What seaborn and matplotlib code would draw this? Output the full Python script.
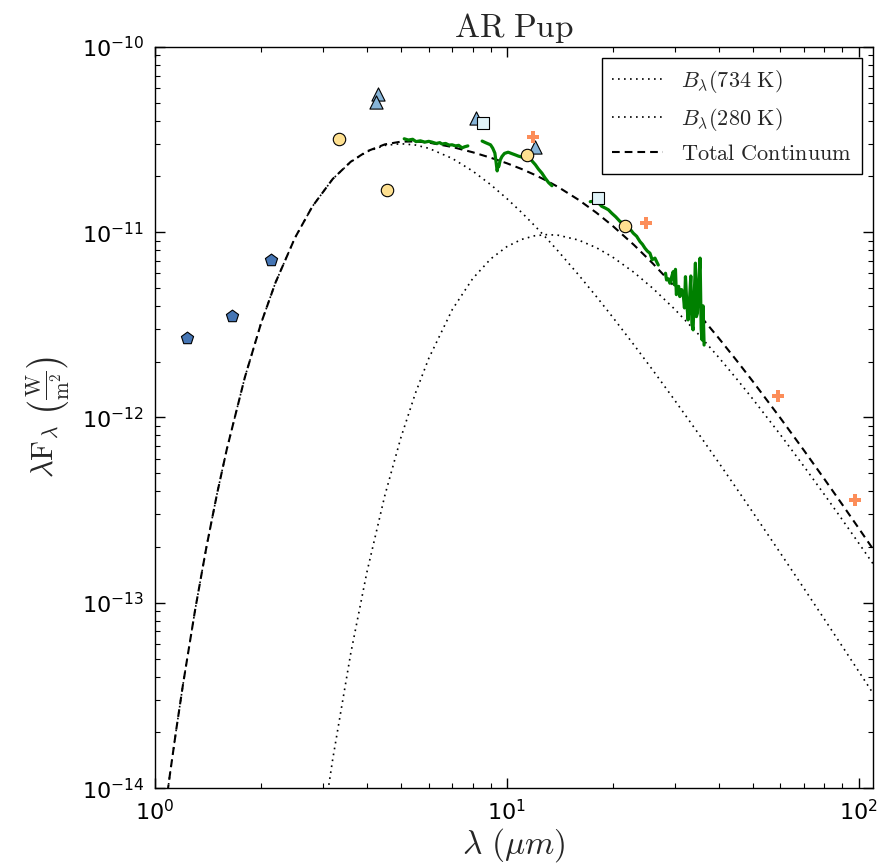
import numpy as np
import pandas as pd
import matplotlib
matplotlib.use("Agg")
import matplotlib.pyplot as plt
import seaborn as sns

# ---------------- data ----------------
# model curves (wavelength in micron, lambda*F_lambda in W/m^2)
model_wl = [1.0, 1.05, 1.1, 1.15, 1.2, 1.3, 1.4, 1.5, 1.6, 1.8, 2.0, 2.2, 2.5, 2.8,
            3.2, 3.6, 4.0, 4.5, 5.0, 5.5, 6.0, 7.0, 8.0, 9.0, 10, 11, 12, 13, 14,
            16, 18, 20, 23, 26, 30, 35, 40, 45, 50, 60, 70, 80, 90, 100, 110]
b734 = [2.848e-15, 5.948e-15, 1.153e-14, 2.095e-14, 3.595e-14, 9.172e-14, 2.002e-13,
        3.862e-13, 6.753e-13, 1.646e-12, 3.208e-12, 5.342e-12, 9.333e-12, 1.375e-11,
        1.936e-11, 2.393e-11, 2.714e-11, 2.937e-11, 3.000e-11, 2.952e-11, 2.834e-11,
        2.498e-11, 2.136e-11, 1.804e-11, 1.519e-11, 1.281e-11, 1.084e-11, 9.226e-12,
        7.894e-12, 5.881e-12, 4.478e-12, 3.479e-12, 2.462e-12, 1.802e-12, 1.241e-12,
        8.226e-13, 5.724e-13, 4.140e-13, 3.089e-13, 1.851e-13, 1.194e-13, 8.149e-14,
        5.804e-14, 4.280e-14, 3.245e-14]
b280_wl = [2.8, 3.0, 3.2, 3.6, 4.0, 4.5, 5.0, 5.5, 6.0, 7.0, 8.0, 9.0, 10, 11, 12, 13, 14,
           16, 18, 20, 23, 26, 30, 35, 40, 45, 50, 60, 70, 80, 90, 100, 110]
b280 = [2.465e-15, 6.356e-15, 1.433e-14, 5.325e-14, 1.456e-13, 3.789e-13, 7.790e-13,
        1.354e-12, 2.083e-12, 3.823e-12, 5.616e-12, 7.170e-12, 8.347e-12, 9.128e-12,
        9.556e-12, 9.697e-12, 9.623e-12, 9.063e-12, 8.232e-12, 7.333e-12, 6.063e-12,
        4.980e-12, 3.843e-12, 2.822e-12, 2.115e-12, 1.618e-12, 1.261e-12, 8.058e-13,
        5.438e-13, 3.834e-13, 2.801e-13, 2.106e-13, 1.623e-13]
total = [2.848e-15, 5.948e-15, 1.153e-14, 2.095e-14, 3.595e-14, 9.172e-14, 2.002e-13,
         3.862e-13, 6.753e-13, 1.646e-12, 3.208e-12, 5.342e-12, 9.333e-12, 1.375e-11,
         1.937e-11, 2.398e-11, 2.729e-11, 2.975e-11, 3.078e-11, 3.087e-11, 3.042e-11,
         2.880e-11, 2.698e-11, 2.521e-11, 2.354e-11, 2.194e-11, 2.040e-11, 1.892e-11,
         1.752e-11, 1.494e-11, 1.271e-11, 1.081e-11, 8.525e-12, 6.782e-12, 5.084e-12,
         3.644e-12, 2.687e-12, 2.032e-12, 1.570e-12, 9.909e-13, 6.632e-13, 4.649e-13,
         3.381e-13, 2.534e-13, 1.947e-13]

# IR spectrum (four segments)
spec1_wl = [5.11, 5.25, 5.40, 5.52, 5.68, 5.85, 6.00, 6.13, 6.30, 6.45, 6.54, 6.70, 6.85,
            6.99, 7.15, 7.30, 7.46, 7.60, 7.75]
spec1_f = [3.19e-11, 3.14e-11, 3.17e-11, 3.08e-11, 3.11e-11, 3.06e-11, 3.09e-11, 3.06e-11,
           3.01e-11, 3.04e-11, 2.99e-11, 3.01e-11, 2.95e-11, 2.96e-11, 2.92e-11, 2.94e-11,
           2.85e-11, 2.89e-11, 2.92e-11]
spec2_wl = [8.51, 8.70, 8.99, 9.12, 9.25, 9.32, 9.39, 9.45, 9.49, 9.58, 9.69, 9.85, 10.09,
            10.30, 10.58, 10.80, 11.05, 11.30, 11.54, 11.80, 12.06, 12.30, 12.59, 12.85,
            13.15, 13.44]
spec2_f = [3.10e-11, 3.04e-11, 2.96e-11, 2.84e-11, 2.67e-11, 2.40e-11, 2.14e-11, 2.30e-11,
           2.26e-11, 2.45e-11, 2.56e-11, 2.66e-11, 2.70e-11, 2.66e-11, 2.61e-11, 2.57e-11,
           2.54e-11, 2.58e-11, 2.56e-11, 2.42e-11, 2.31e-11, 2.19e-11, 2.08e-11, 1.96e-11,
           1.85e-11, 1.78e-11]
spec3_wl = [17.27, 17.7, 18.22, 18.6, 19.04, 19.45, 19.88, 20.4, 21.0, 21.45, 21.92, 22.4,
            22.89, 23.4, 23.92, 24.3, 24.71, 25.1, 25.53, 25.9, 26.38, 26.7, 26.96]
spec3_f = [1.46e-11, 1.47e-11, 1.44e-11, 1.38e-11, 1.35e-11, 1.32e-11, 1.265e-11, 1.21e-11,
           1.14e-11, 1.12e-11, 1.07e-11, 1.04e-11, 9.87e-12, 9.5e-12, 8.89e-12, 8.6e-12,
           8.19e-12, 7.9e-12, 7.70e-12, 7.1e-12, 7.24e-12, 6.9e-12, 6.65e-12]
spec4_wl = [28.27, 28.46, 28.8, 29.09, 29.4, 29.72, 29.95, 30.17, 30.35, 30.57, 30.8, 31.05,
            31.4, 31.72, 32.0, 32.21, 32.5, 32.78, 33.1, 33.36, 33.6, 33.86, 34.1, 34.38,
            34.6, 34.83, 35.1, 35.45, 35.7, 35.92, 36.15, 36.39]
spec4_f = [6.00e-12, 5.52e-12, 5.60e-12, 5.30e-12, 5.70e-12, 6.12e-12, 5.20e-12, 6.30e-12,
           4.60e-12, 4.88e-12, 5.10e-12, 4.49e-12, 4.90e-12, 4.68e-12, 3.90e-12, 5.75e-12,
           4.10e-12, 3.36e-12, 4.40e-12, 5.80e-12, 3.20e-12, 2.97e-12, 4.50e-12, 6.80e-12,
           3.50e-12, 3.65e-12, 5.20e-12, 7.24e-12, 3.00e-12, 2.62e-12, 4.00e-12, 2.46e-12]

# photometry
pent_wl = [1.23, 1.65, 2.14]
pent_f = [2.69e-12, 3.53e-12, 7.08e-12]
circ_wl = [3.34, 4.57, 11.4, 21.7]
circ_f = [3.18e-11, 1.69e-11, 2.61e-11, 1.08e-11]
tri_wl = [4.31, 4.25, 8.17, 12.0]
tri_f = [5.57e-11, 5.04e-11, 4.14e-11, 2.88e-11]
sq_wl = [8.55, 18.2]
sq_f = [3.89e-11, 1.53e-11]
plus_wl = [11.9, 24.8, 59.0, 98.0]
plus_f = [3.27e-11, 1.12e-11, 1.31e-12, 3.59e-13]

legend_labels = [r'$B_\lambda(734\ \mathrm{K})$', r'$B_\lambda(280\ \mathrm{K})$',
                 r'$\mathrm{Total\ Continuum}$']

# ---------------- style ----------------
sns.set_style("ticks")
plt.rcParams.update({
    "font.family": ["DejaVu Sans"],
    "xtick.direction": "in", "ytick.direction": "in",
    "xtick.top": True, "ytick.right": True,
    "xtick.major.size": 7, "ytick.major.size": 7,
    "xtick.minor.size": 3.5, "ytick.minor.size": 3.5,
    "xtick.major.width": 1.0, "ytick.major.width": 1.0,
    "xtick.minor.width": 0.8, "ytick.minor.width": 0.8,
    "xtick.major.pad": 8, "ytick.major.pad": 8,
    "xtick.labelsize": 16, "ytick.labelsize": 16,
    "axes.edgecolor": "black", "axes.linewidth": 1.0,
    "xtick.color": "black", "ytick.color": "black",
})

fig = plt.figure(figsize=(8.81, 8.67), dpi=100)
ax = fig.add_axes([0.176, 0.091, 0.815, 0.855])

dot = (0, (1, 2.6))
sns.lineplot(x=model_wl, y=b734, ax=ax, color="black", lw=1.2, linestyle=dot,
             sort=False, estimator=None, label=legend_labels[0])
sns.lineplot(x=b280_wl, y=b280, ax=ax, color="black", lw=1.2, linestyle=dot,
             sort=False, estimator=None, label=legend_labels[1])
sns.lineplot(x=model_wl, y=total, ax=ax, color="black", lw=1.5, linestyle=(0, (3.7, 2.4)),
             sort=False, estimator=None, label=legend_labels[2])

spec = pd.concat([
    pd.DataFrame({"wl": spec1_wl, "f": spec1_f, "seg": 1}),
    pd.DataFrame({"wl": spec2_wl, "f": spec2_f, "seg": 2}),
    pd.DataFrame({"wl": spec3_wl, "f": spec3_f, "seg": 3}),
    pd.DataFrame({"wl": spec4_wl, "f": spec4_f, "seg": 4}),
])
sns.lineplot(data=spec, x="wl", y="f", units="seg", estimator=None, sort=False,
             color="green", lw=2.3, ax=ax, legend=False)

mk = dict(ax=ax, legend=False, edgecolor="black", linewidth=0.8, zorder=5)
sns.scatterplot(x=pent_wl, y=pent_f, marker="p", s=85, color="#4575b4", **mk)
sns.scatterplot(x=tri_wl, y=tri_f, marker="^", s=90, color="#86b4d8", **mk)
sns.scatterplot(x=sq_wl, y=sq_f, marker="s", s=75, color="#e0f3f8", **mk)
sns.scatterplot(x=circ_wl, y=circ_f, marker="o", s=80, color="#fee090", **mk)
sns.scatterplot(x=plus_wl, y=plus_f, marker="P", s=80, color="#fc8d59", ax=ax,
                legend=False, edgecolor="#fc8d59", linewidth=0, zorder=6)

ax.set_xscale("log")
ax.set_yscale("log")
ax.set_xlim(1.0, 110)
ax.set_ylim(1e-14, 1e-10)

ax.set_title(r'$\mathrm{AR\ Pup}$', fontsize=24, math_fontfamily="cm", pad=7)
ax.set_xlabel(r'$\lambda\ (\mu m)$', fontsize=24, math_fontfamily="cm", labelpad=1)
ax.set_ylabel(r'$\lambda\mathrm{F}_\lambda\ \left(\frac{\mathrm{W}}{\mathrm{m}^2}\right)$',
              fontsize=22, math_fontfamily="cm", labelpad=6)

leg = ax.legend(loc="upper right", fancybox=False, framealpha=1, edgecolor="black",
                prop={"size": 16, "math_fontfamily": "cm"}, handlelength=2.3,
                labelspacing=0.5, borderpad=0.45)
leg.get_frame().set_linewidth(1.0)

for s in ax.spines.values():
    s.set_visible(True)

fig.savefig("out.png", dpi=100)
